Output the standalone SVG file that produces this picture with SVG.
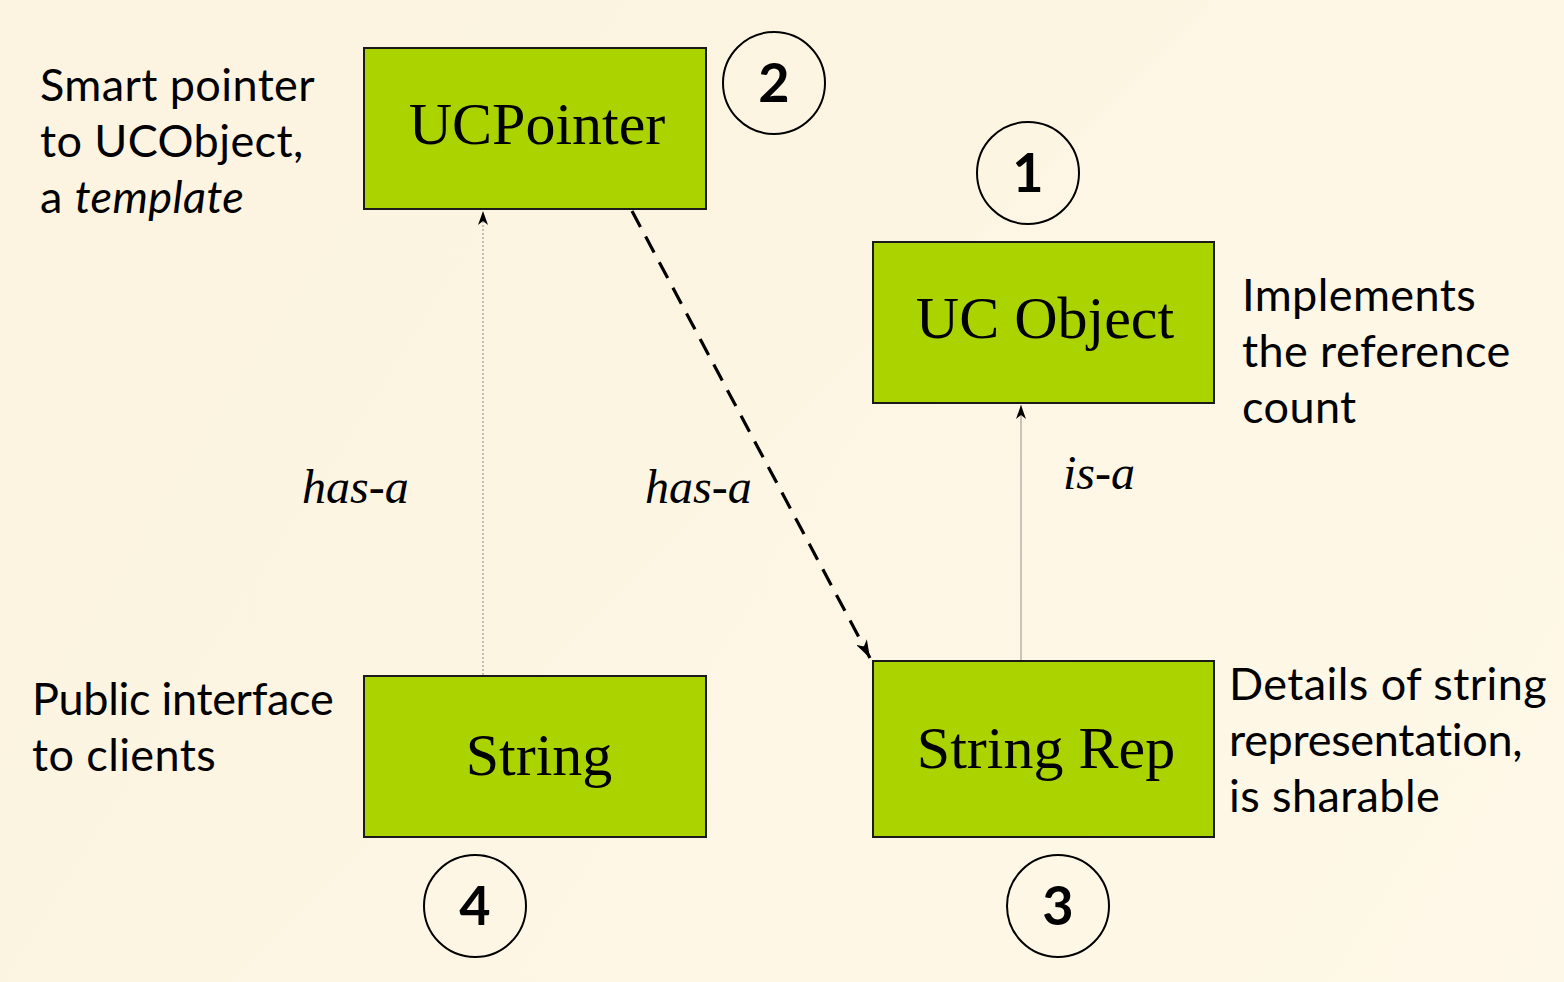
<svg xmlns="http://www.w3.org/2000/svg" width="1564" height="982" viewBox="0 0 1564 982">
  <style>
    .box { fill: #abd300; stroke: #1a1a1a; stroke-width: 2; }
    .boxlabel { font-family: "Liberation Serif", "Times New Roman", serif; font-size: 60px; fill: #000; text-anchor: middle; }
    .num { fill: none; stroke: #000; stroke-width: 2; }
    .numtext { font-family: Lato, "Open Sans", sans-serif; font-weight: 700; font-size: 54px; fill: #000; text-anchor: middle; }
    .note { font-family: Lato, "Open Sans", sans-serif; font-size: 45px; letter-spacing: 0.4px; fill: #000; }
    .tight { letter-spacing: -0.3px; }
    .edge { font-family: "Liberation Serif", "Times New Roman", serif; font-style: italic; font-size: 48px; fill: #000; }
  </style>
  <defs>
    <linearGradient id="bg" x1="0" y1="0" x2="1564" y2="982" gradientUnits="userSpaceOnUse">
      <stop offset="0" stop-color="#fcf4e0"/>
      <stop offset="0.5" stop-color="#fcf5e2"/>
      <stop offset="1" stop-color="#fdf7e6"/>
    </linearGradient>
    <marker id="arrowThin" viewBox="0 0 14 10" refX="14" refY="5" markerWidth="14" markerHeight="10" markerUnits="userSpaceOnUse" orient="auto">
      <path d="M0,0 L14,5 L0,10 L4,5 Z" fill="#000"/>
    </marker>
    <marker id="arrowDash" viewBox="0 0 18 12" refX="18" refY="6" markerWidth="18" markerHeight="12" markerUnits="userSpaceOnUse" orient="auto">
      <path d="M0,0 L18,6 L0,12 L5,6 Z" fill="#000"/>
    </marker>
  </defs>

  <rect x="0" y="0" width="1564" height="982" fill="url(#bg)"/>
  <polygon points="230,982 1212,0 1564,0 1564,982" fill="#fef9ec" opacity="0.35"/>

  <g id="connectors">
    <line x1="483" y1="675" x2="483" y2="211" stroke="#8a8a8a" stroke-width="1" stroke-dasharray="2,2" marker-end="url(#arrowThin)"/>
    <line x1="632" y1="211" x2="870" y2="658" stroke="#000" stroke-width="3.2" stroke-dasharray="18,11" marker-end="url(#arrowDash)"/>
    <line x1="1021" y1="660" x2="1021" y2="405" stroke="#b8b2a8" stroke-width="1.5" marker-end="url(#arrowThin)"/>
    <text class="edge" x="302" y="503">has-a</text>
    <text class="edge" x="645" y="503">has-a</text>
    <text class="edge" x="1063" y="489">is-a</text>
  </g>

  <g id="ucpointer">
    <rect class="box" x="364" y="48" width="342" height="161"/>
    <text class="boxlabel" x="537" y="144">UCPointer</text>
  </g>

  <g id="ucobject">
    <rect class="box" x="873" y="242" width="341" height="161"/>
    <text class="boxlabel" x="1045" y="338">UC Object</text>
  </g>

  <g id="string">
    <rect class="box" x="364" y="676" width="342" height="161"/>
    <text class="boxlabel" x="539" y="775">String</text>
  </g>

  <g id="stringrep">
    <rect class="box" x="873" y="661" width="341" height="176"/>
    <text class="boxlabel" x="1046" y="768">String Rep</text>
  </g>

  <g id="badge1">
    <circle class="num" cx="1028" cy="173" r="51"/>
    <text class="numtext" x="1028" y="192">1</text>
  </g>
  <g id="badge2">
    <circle class="num" cx="774" cy="83" r="51"/>
    <text class="numtext" x="774" y="102">2</text>
  </g>
  <g id="badge3">
    <circle class="num" cx="1058" cy="906" r="51"/>
    <text class="numtext" x="1058" y="925">3</text>
  </g>
  <g id="badge4">
    <circle class="num" cx="475" cy="906" r="51"/>
    <text class="numtext" x="475" y="925">4</text>
  </g>

  <g id="note-ucpointer">
    <text class="note" x="40" y="101">Smart pointer</text>
    <text class="note" x="40" y="157">to UCObject,</text>
    <text class="note" x="40" y="213">a <tspan font-style="italic">template</tspan></text>
  </g>
  <g id="note-ucobject">
    <text class="note" x="1242" y="311">Implements</text>
    <text class="note" x="1242" y="367">the reference</text>
    <text class="note" x="1242" y="423">count</text>
  </g>
  <g id="note-string">
    <text class="note tight" x="32" y="715">Public interface</text>
    <text class="note" x="32" y="771">to clients</text>
  </g>
  <g id="note-stringrep">
    <text class="note" x="1229" y="700">Details of string</text>
    <text class="note tight" x="1229" y="756">representation,</text>
    <text class="note" x="1229" y="812">is sharable</text>
  </g>
</svg>
